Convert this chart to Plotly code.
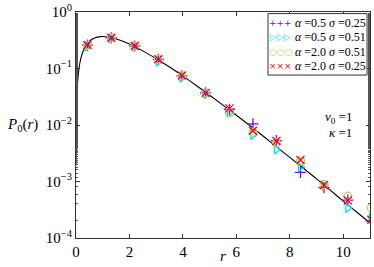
import plotly.graph_objects as go

# ---- data ----
r_pts = [0.43, 1.32, 2.2, 3.08, 3.96, 4.85, 5.74, 6.62, 7.5, 8.4, 9.28, 10.17, 11.05]

p_a05_s025 = [0.26, 0.35, 0.25, 0.145, 0.074, 0.037, 0.019, 0.0105, 0.0053, 0.00145, 0.00078, 0.00047, 0.0002]
p_a05_s051 = [0.25, 0.34, 0.245, 0.133, 0.070, 0.036, 0.0165, 0.0067, 0.0037, 0.0018, 0.00085, 0.00034, 0.000224]
p_a20_s051 = [0.26, 0.35, 0.25, 0.145, 0.074, 0.037, 0.0165, 0.0075, 0.0048, 0.0023, 0.00088, 0.00055, 0.00034]
p_a20_s025 = [0.26, 0.35, 0.25, 0.146, 0.075, 0.037, 0.0197, 0.0079, 0.0052, 0.0024, 0.00087, 0.00046, 0.00021]

r_curve = [0.002, 0.005, 0.01, 0.02, 0.04, 0.07, 0.1, 0.15, 0.2, 0.3, 0.4, 0.5, 0.6, 0.7,
           0.85, 1.0, 1.2, 1.4, 1.7, 2.0, 2.5, 3.0, 3.5, 4.0, 4.5, 5.0, 5.5, 6.0, 6.5,
           7.0, 7.5, 8.0, 8.5, 9.0, 9.5, 10.0, 10.5, 11.0]
p_curve = [0.002, 0.005, 0.0099, 0.0196, 0.0384, 0.0653, 0.0905, 0.129, 0.164, 0.222, 0.268,
           0.303, 0.329, 0.348, 0.363, 0.368, 0.361, 0.345, 0.311, 0.271, 0.205, 0.149, 0.106,
           0.0733, 0.050, 0.0337, 0.0225, 0.0149, 0.0098, 0.0064, 0.0041, 0.00268, 0.00173,
           0.00111, 0.00071, 0.00045, 0.000288, 0.000184]

y_tickvals = [1e-4, 1e-3, 1e-2, 1e-1, 1]
y_ticktext = ["10<sup>−4</sup>", "10<sup>−3</sup>", "10<sup>−2</sup>", "10<sup>−1</sup>", "10<sup>0</sup>"]
x_tickvals = [0, 2, 4, 6, 8, 10]

series_labels = ["<i>α</i> =0.5 <i>σ</i> =0.25", "<i>α</i> =0.5 <i>σ</i> =0.51",
                 "<i>α</i> =2.0 <i>σ</i> =0.51", "<i>α</i> =2.0 <i>σ</i> =0.25"]
series_values = [p_a05_s025, p_a05_s051, p_a20_s051, p_a20_s025]
series_symbols = ["cross-thin-open", "triangle-right-open", "circle-open", "x-thin-open"]
series_glyphs = ["+++", "▷▷▷", "○○○", "×××"]
series_colors = ["#7f00ff", "#00dde8", "#c8c85a", "#ff0000"]

FONT = "Liberation Serif"

fig = go.Figure()
fig.add_trace(go.Scatter(x=r_curve, y=p_curve, mode="lines", line=dict(color="black", width=1.1, shape="spline"),
                         showlegend=False, hoverinfo="skip"))
for name, vals, sym, col in zip(series_labels, series_values, series_symbols, series_colors):
    fig.add_trace(go.Scatter(x=r_pts, y=vals, mode="markers", name=name, showlegend=False,
                             marker=dict(symbol=sym, size=8, color=col, line=dict(color=col, width=1.3))))

axis_common = dict(showline=True, linecolor="#333", linewidth=1, mirror="allticks", ticks="inside",
                   tickcolor="#333", showgrid=False, zeroline=False, automargin=False,
                   tickfont=dict(family=FONT, size=15, color="black"))

fig.update_xaxes(range=[0, 11], tickvals=x_tickvals, ticklen=4, **axis_common)
fig.update_yaxes(type="log", range=[-4, 0], tickvals=y_tickvals, ticktext=y_ticktext, ticklen=4,
                 minor=dict(ticks="inside", ticklen=2, tickcolor="#555", showgrid=False),
                 **axis_common)

# axis titles
fig.add_annotation(text="<i>P</i><sub>0</sub>(<i>r</i>)", xref="paper", yref="paper", x=-0.122, y=0.5,
                   xanchor="right", showarrow=False, font=dict(family=FONT, size=15, color="black"))
fig.add_annotation(text="<i>r</i>", xref="paper", yref="paper", x=0.5, y=-0.08, yanchor="middle",
                   showarrow=False, font=dict(family=FONT, size=15, color="black"))
# parameter text
fig.add_annotation(text="<i>v</i><sub>0</sub> =1", xref="paper", yref="paper", x=0.946, y=0.531,
                   xanchor="right", showarrow=False, font=dict(family=FONT, size=13, color="black"))
fig.add_annotation(text="<i>κ</i> =1", xref="paper", yref="paper", x=0.946, y=0.465,
                   xanchor="right", showarrow=False, font=dict(family=FONT, size=13, color="black"))

# legend box (matplotlib style, three markers per entry)
fig.add_shape(type="rect", xref="paper", yref="paper", x0=0.653, x1=0.99, y0=0.721, y1=0.993,
              line=dict(color="#333", width=1), fillcolor="white", layer="above")
row_y = [0.950, 0.888, 0.824, 0.761]
for ry, lab, glyph, col in zip(row_y, series_labels, series_glyphs, series_colors):
    fig.add_annotation(text=glyph, xref="paper", yref="paper", x=0.696, y=ry, xanchor="center",
                       yanchor="middle", showarrow=False,
                       font=dict(family="DejaVu Sans", size=9, color=col))
    fig.add_annotation(text=lab, xref="paper", yref="paper", x=0.738, y=ry, xanchor="left",
                       yanchor="middle", showarrow=False,
                       font=dict(family=FONT, size=12, color="black"))

fig.update_layout(
    width=374, height=267,
    margin=dict(l=76, r=4, t=12, b=29),
    plot_bgcolor="white", paper_bgcolor="white",
    showlegend=False,
)

fig.write_html("out.html", config={"displayModeBar": False},
               post_script="document.body.style.margin='0';document.body.style.padding='0';")
